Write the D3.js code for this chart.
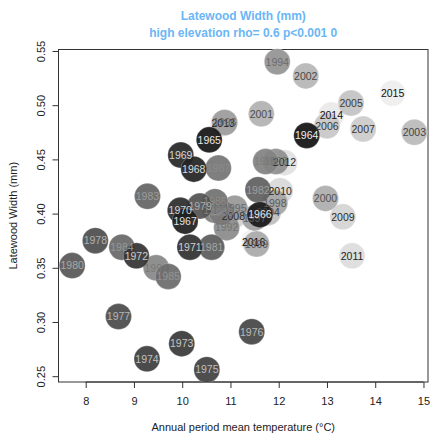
<!DOCTYPE html>
<html>
<head>
<meta charset="utf-8">
<script src="https://cdn.jsdelivr.net/npm/d3@7"></script>
<style>
  html, body { margin: 0; padding: 0; background: #ffffff; }
  svg { display: block; font-family: "Liberation Sans", Arial, Helvetica, sans-serif; }
</style>
</head>
<body>
<svg id="chart" width="430" height="438"></svg>
<script>
// Year of each ring-width observation
const years = [
  1964, 1965, 1966, 1967, 1968, 1969, 1970, 1971, 1972, 1973,
  1974, 1975, 1976, 1977, 1978, 1979, 1980, 1981, 1982, 1983,
  1984, 1985, 1986, 1987, 1988, 1989, 1990, 1991, 1992, 1993,
  1994, 1995, 1996, 1997, 1998, 1999, 2000, 2001, 2002, 2003,
  2004, 2005, 2006, 2007, 2008, 2009, 2010, 2011, 2012, 2013,
  2014, 2015, 2016
];
// Annual period mean temperature (°C)
const temperature = [
  12.58, 10.56, 11.61, 10.06, 10.24, 9.97, 9.96, 10.16, 9.05, 9.99,
  9.27, 10.51, 11.44, 8.68, 8.20, 10.37, 7.72, 10.61, 11.57, 9.28,
  8.75, 9.71, 10.68, 10.75, 10.82, 10.68, 11.73, 9.46, 10.92, 11.94,
  11.97, 11.09, 10.88, 11.50, 11.92, 11.54, 12.97, 11.64, 12.56, 14.81,
  11.78, 13.50, 13.00, 13.75, 11.06, 13.33, 12.03, 13.52, 12.12, 10.85,
  13.09, 14.36, 11.48
];
// Latewood width (mm)
const latewood = [
  0.472, 0.468, 0.399, 0.393, 0.441, 0.454, 0.403, 0.369, 0.361, 0.280,
  0.266, 0.256, 0.291, 0.305, 0.375, 0.407, 0.352, 0.369, 0.422, 0.416,
  0.369, 0.342, 0.411, 0.442, 0.401, 0.403, 0.448, 0.350, 0.387, 0.448,
  0.540, 0.405, 0.484, 0.396, 0.410, 0.372, 0.414, 0.492, 0.527, 0.475,
  0.401, 0.502, 0.481, 0.478, 0.398, 0.397, 0.421, 0.361, 0.447, 0.483,
  0.491, 0.511, 0.374
];
const xTicks = [8, 9, 10, 11, 12, 13, 14, 15];
const yTicks = [0.25, 0.30, 0.35, 0.40, 0.45, 0.50, 0.55];

const titleLines = ["Latewood Width (mm)", "high elevation rho= 0.6 p<0.001 0"];
const xLabel = "Annual period mean temperature (°C)";
const yLabel = "Latewood Width (mm)";

// Most recent years first, so the older (darker) bubbles sit on top
const points = years.map((y, i) => ({ year: y, t: temperature[i], w: latewood[i] }))
  .sort((a, b) => b.year - a.year);

const svg = d3.select("#chart");
const box = { left: 58.5, right: 428, top: 49.5, bottom: 382 };

// Padded data range (4% each side), as in a classic base-graphics plot
function padded(ext) {
  const p = (ext[1] - ext[0]) * 0.04;
  return [ext[0] - p, ext[1] + p];
}
const x = d3.scaleLinear().domain(padded(d3.extent(temperature))).range([box.left, box.right]);
const y = d3.scaleLinear().domain(padded(d3.extent(latewood))).range([box.bottom, box.top]);

// Grey level by year: dark for early years, pale for recent ones
const grey = d3.scaleLinear().domain(d3.extent(years)).range([0.07, 0.95]);
const greyHex = g => { const v = Math.round(g * 255); return d3.rgb(v, v, v).formatHex(); };

// Axes
const axisColor = "#333333";
const xAxis = svg.append("g")
  .attr("transform", `translate(0,${box.bottom})`)
  .call(d3.axisBottom(x).tickValues(xTicks).tickSize(6).tickPadding(9).tickFormat(d3.format("d")));
const yAxis = svg.append("g")
  .attr("transform", `translate(${box.left},0)`)
  .call(d3.axisLeft(y).tickValues(yTicks).tickSize(6).tickPadding(4).tickFormat(d3.format(".2f")));
[xAxis, yAxis].forEach(a => {
  a.select(".domain").remove();
  a.selectAll(".tick line").attr("stroke", axisColor);
  a.selectAll(".tick text").attr("fill", "#222").style("font-size", "11px");
});
// Axis lines span first to last tick
svg.append("line")
  .attr("x1", x(xTicks[0])).attr("x2", x(xTicks[xTicks.length - 1]))
  .attr("y1", box.bottom).attr("y2", box.bottom).attr("stroke", axisColor);
svg.append("line")
  .attr("y1", y(yTicks[0])).attr("y2", y(yTicks[yTicks.length - 1]))
  .attr("x1", box.left).attr("x2", box.left).attr("stroke", axisColor);
// Rotated y tick labels
yAxis.selectAll(".tick text")
  .attr("text-anchor", "middle")
  .attr("dy", 0)
  .attr("transform", "translate(-14,0) rotate(-90)")
  .attr("x", 0).attr("y", 0);

// Plot frame
svg.append("rect")
  .attr("x", box.left).attr("y", box.top)
  .attr("width", box.right - box.left).attr("height", box.bottom - box.top)
  .attr("fill", "none").attr("stroke", axisColor).attr("stroke-width", 1);

// Year bubbles
const marks = svg.append("g");
marks.selectAll("circle")
  .data(points)
  .join("circle")
  .attr("cx", d => x(d.t))
  .attr("cy", d => y(d.w))
  .attr("r", 13)
  .attr("fill", d => greyHex(grey(d.year)))
  .attr("fill-opacity", 0.93)
  .attr("stroke", "#ffffff")
  .attr("stroke-opacity", 0.3)
  .attr("stroke-width", 0.8);

marks.selectAll("text")
  .data(points)
  .join("text")
  .attr("x", d => x(d.t))
  .attr("y", d => y(d.w))
  .attr("dy", "0.36em")
  .attr("text-anchor", "middle")
  .style("font-size", "10.5px")
  .attr("fill", d => greyHex(1 - grey(d.year)))
  .text(d => d.year);

// Titles
const midX = (box.left + box.right) / 2;
svg.append("g").selectAll("text")
  .data(titleLines)
  .join("text")
  .attr("x", midX)
  .attr("y", (d, i) => 20 + i * 16.5)
  .attr("text-anchor", "middle")
  .style("font-size", "12px")
  .style("font-weight", "bold")
  .attr("fill", "#6bb6f5")
  .text(d => d);

svg.append("text")
  .attr("x", midX).attr("y", 431)
  .attr("text-anchor", "middle")
  .style("font-size", "11px")
  .attr("fill", "#222")
  .text(xLabel);

svg.append("text")
  .attr("transform", `translate(17,${(box.top + box.bottom) / 2}) rotate(-90)`)
  .attr("text-anchor", "middle")
  .style("font-size", "11px")
  .attr("fill", "#222")
  .text(yLabel);
</script>
</body>
</html>
